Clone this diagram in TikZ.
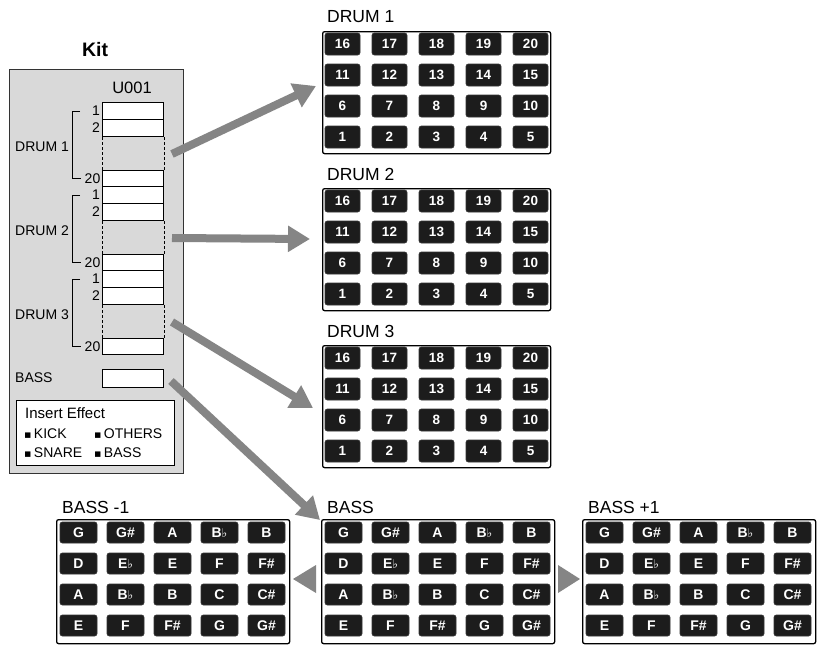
\documentclass[tikz,border=0pt]{standalone}
\usepackage{fontspec}
\setmainfont{Liberation Sans}
\newfontfamily\dvs{DejaVu Sans}
\usetikzlibrary{arrows.meta}
\definecolor{kitgray}{HTML}{D9D9D9}
\definecolor{arrgray}{HTML}{858585}
\definecolor{padblk}{HTML}{1C1C1C}
\newcommand\mysharp{\#}
\newcommand\myflat{{\dvs\fontsize{12}{12}\selectfont ♭}}
\newcommand\mybul{{\dvs\fontsize{11}{11}\selectfont ▪}}
\tikzset{
  panel/.style={draw=black, line width=1.3pt, rounded corners=2pt, fill=white, inner sep=0pt, anchor=north west},
  pad/.style={draw=black!80, fill=padblk, rounded corners=2.5pt, line width=0.8pt, inner sep=0pt, text=white},
  drumpad/.style={pad, minimum width=35pt, minimum height=22pt, font=\fontsize{13.5}{13.5}\selectfont\bfseries},
  basspad/.style={pad, minimum width=37pt, minimum height=21pt, font=\fontsize{14}{14}\selectfont\bfseries},
  title/.style={anchor=west, inner sep=0pt, font=\fontsize{17.5}{17.5}\selectfont},
  lbl/.style={inner sep=0pt, font=\fontsize{14}{14}\selectfont},
  slot/.style={draw=black, fill=white, line width=1pt, inner sep=0pt, minimum width=61pt, anchor=north west},
  bigarrow/.style={draw=arrgray, line width=8pt, -{Triangle[width=25pt,length=22pt]}},
}
\begin{document}
\begin{tikzpicture}[x=1pt,y=-1pt]
\useasboundingbox[fill=white] (0,0) rectangle (820,645);

% ---------- Kit panel ----------
\node[draw=black!80, fill=kitgray, line width=1.2pt, inner sep=0pt, minimum width=174pt, minimum height=404pt, anchor=north west] (kit) at (9,69) {};
\node[inner sep=0pt, font=\fontsize{19.5}{19.5}\selectfont\bfseries] (kittitle) at (95,50) {Kit};
\node[inner sep=0pt, font=\fontsize{16.5}{16.5}\selectfont] (u001) at (132,88) {U001};

\foreach \g/\T in {1/102, 2/186, 3/270} {
  \node[slot, minimum height=17pt] (g\g s1) at (102,\T) {};
  \node[slot, minimum height=17pt] (g\g s2) at (102,\T+17) {};
  \node[slot, minimum height=16pt] (g\g s20) at (102,\T+68) {};
  \draw[black, line width=1pt, dash pattern=on 3pt off 2pt] (g\g s2.south west) -- (g\g s20.north west);
  \draw[black, line width=1pt, dash pattern=on 3pt off 2pt] (g\g s2.south east) -- (g\g s20.north east);
  \coordinate (g\g mid) at (172,\T+52);
  \draw[black, line width=1pt] (80,\T+9) -- (72,\T+9) -- (72,\T+76) -- (81,\T+76);
  \node[lbl, anchor=east] (g\g l1) at (100,\T+9) {1};
  \node[lbl, anchor=east] (g\g l2) at (100,\T+26) {2};
  \node[lbl, anchor=east] (g\g l20) at (100.5,\T+77) {20};
  \node[lbl, anchor=west] (g\g name) at (15,\T+45) {DRUM \g};
}
\node[slot, minimum height=18pt] (bslot) at (102,369) {};
\node[lbl, anchor=west] (bname) at (15,378) {BASS};
\coordinate (bmid) at (171,381);

% Insert effect box
\node[draw=black, fill=white, line width=1.3pt, inner sep=0pt, minimum width=158pt, minimum height=65pt, anchor=north west] (ins) at (16,400) {};
\node[inner sep=0pt, anchor=west, font=\fontsize{15}{15}\selectfont] (institle) at (25,413) {Insert Effect};
\node[lbl, anchor=west] (ikick) at (24,434) {\mybul\,KICK};
\node[lbl, anchor=west] (ioth) at (94,434) {\mybul\,OTHERS};
\node[lbl, anchor=west] (isnare) at (24,453) {\mybul\,SNARE};
\node[lbl, anchor=west] (ibass) at (94,453) {\mybul\,BASS};

% ---------- Drum panels ----------
\foreach \nm/\top/\ttl in {d1/31/{DRUM 1}, d2/188/{DRUM 2}, d3/345/{DRUM 3}} {
  \node[panel, minimum width=228pt, minimum height=122pt] (\nm) at (322,\top) {};
  \node[title] (\nm t) at (327,\top-14) {\ttl};
  \foreach \r in {0,...,3} {
    \foreach \c in {0,...,4} {
      \pgfmathtruncatemacro\num{(3-\r)*5+\c+1}
      \node[drumpad] (\nm p\num) at (342.5+47*\c, \top+13+31*\r) {\num};
    }
  }
}

% ---------- Bass panels ----------
\foreach \nm/\L/\ttl in {bm/56/{BASS -1}, b0/321/{BASS}, bp/582/{BASS +1}} {
  \node[panel, minimum width=233pt, minimum height=124pt] (\nm) at (\L,519) {};
  \node[title] (\nm t) at (\L+6,507) {\ttl};
  \foreach \r/\row in {0/{G,G\mysharp,A,B\myflat,B}, 1/{D,E\myflat,E,F,F\mysharp}, 2/{A,B\myflat,B,C,C\mysharp}, 3/{E,F,F\mysharp,G,G\mysharp}} {
    \foreach \n [count=\c from 0] in \row {
      \node[basspad] (\nm r\r c\c) at (\L+22.5+47*\c, 532.5+31*\r) {\n};
    }
  }
}

% ---------- Arrows ----------
\coordinate (a1e) at (316,86);
\coordinate (a2e) at (310,239);
\coordinate (a3e) at (313,408);
\coordinate (a4e) at (320,520);
\draw[bigarrow] (g1mid) -- (a1e);
\draw[bigarrow] (g2mid) -- (a2e);
\draw[bigarrow] (g3mid) -- (a3e);
\draw[bigarrow] (bmid) -- (a4e);

\fill[arrgray] (316,565) -- (293,579) -- (316,593) -- cycle;
\fill[arrgray] (558,565) -- (580,579) -- (558,593) -- cycle;
\end{tikzpicture}
\end{document}
